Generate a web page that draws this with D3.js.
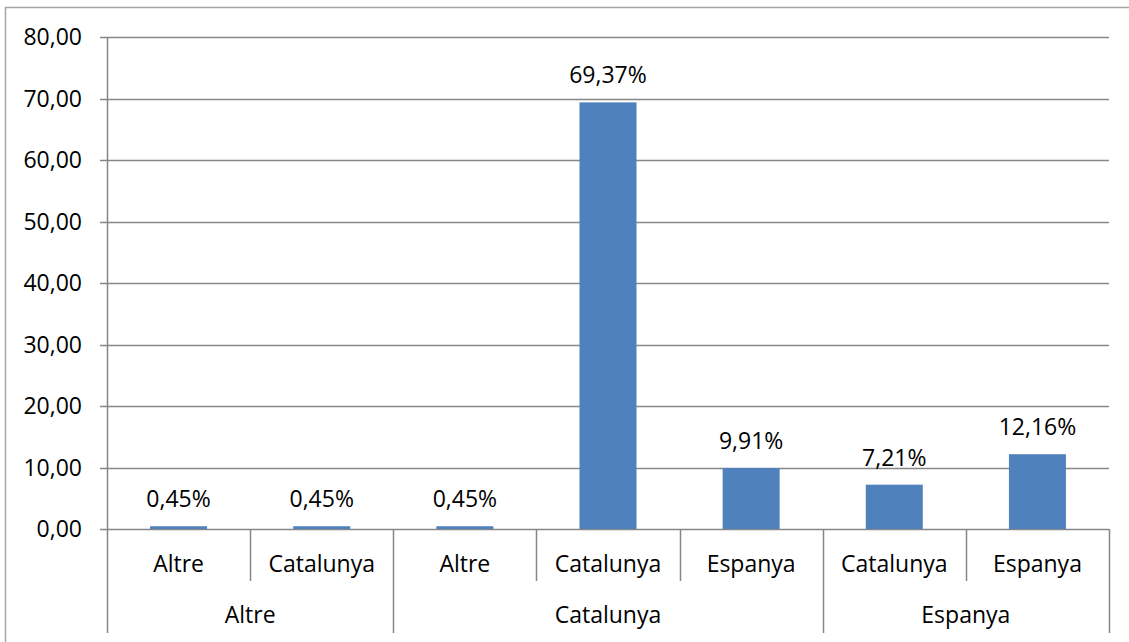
<!DOCTYPE html>
<html><head><meta charset="utf-8">
<script src="https://cdn.jsdelivr.net/npm/d3@7"></script>
<style>body{margin:0;background:#fff}svg{display:block}text{font-family:"Open Sans",sans-serif;fill:#000}</style>
</head><body><svg id="c" width="1129" height="642"></svg>
<script>
const groups = ["Altre","Altre","Catalunya","Catalunya","Catalunya","Espanya","Espanya"];
const subcats = ["Altre","Catalunya","Altre","Catalunya","Espanya","Catalunya","Espanya"];
const values = [0.45,0.45,0.45,69.37,9.91,7.21,12.16];
const labels = ["0,45%","0,45%","0,45%","69,37%","9,91%","7,21%","12,16%"];
const yTicks = [0,10,20,30,40,50,60,70,80];

const svg = d3.select("#c");
const L=107, R=1109, T=37, B=529, FS=23;
const idx = values.map((d,i)=>i);
const x = d3.scaleBand().domain(idx).range([L,R]).paddingInner(0).paddingOuter(0);
const y = d3.scaleLinear().domain([0,80]).range([B,T]);
const grid="#868686";

// chart border
svg.append("rect").attr("x",5.5).attr("y",7.5).attr("width",1140).attr("height",660).attr("fill","none").attr("stroke","#a6a6a6").attr("stroke-width",1.5);

// gridlines
svg.append("g").selectAll("line").data(yTicks).join("line")
  .attr("x1",L-7).attr("x2",R).attr("y1",d=>Math.round(y(d))+0.5).attr("y2",d=>Math.round(y(d))+0.5)
  .attr("stroke",grid).attr("stroke-width",1.5);
// y labels
const fmt = d=>d3.format(".2f")(d).replace(".",",");
svg.append("g").selectAll("text").data(yTicks).join("text")
  .attr("x",82).attr("y",d=>y(d)).attr("dy","0.36em").attr("text-anchor","end")
  .attr("font-size",FS).text(fmt);
// y axis line
svg.append("line").attr("x1",L+0.5).attr("x2",L+0.5).attr("y1",T).attr("y2",633).attr("stroke",grid).attr("stroke-width",1.5);

// bars
svg.append("g").selectAll("rect").data(idx).join("rect")
  .attr("x",i=>x(i)+x.bandwidth()/2-28.5).attr("width",57)
  .attr("y",i=>y(values[i])).attr("height",i=>y(0)-y(values[i]))
  .attr("fill","#4f81bd");
// data labels
svg.append("g").selectAll("text").data(idx).join("text")
  .attr("x",i=>x(i)+x.bandwidth()/2).attr("y",i=>y(values[i])-19)
  .attr("text-anchor","middle").attr("font-size",FS).text(i=>labels[i]);

// category ticks
svg.append("g").selectAll("line").data(idx.slice(1).concat([idx.length])).join("line")
  .attr("x1",i=>Math.round(i<idx.length?x(i):R)+0.5).attr("x2",i=>Math.round(i<idx.length?x(i):R)+0.5)
  .attr("y1",B).attr("y2",i=>(i===idx.length||groups[i]!==groups[i-1])?633:581)
  .attr("stroke",grid).attr("stroke-width",1.5);
// sub labels
svg.append("g").selectAll("text").data(idx).join("text")
  .attr("x",i=>x(i)+x.bandwidth()/2).attr("y",564).attr("dy","0.36em")
  .attr("text-anchor","middle").attr("font-size",FS).text(i=>subcats[i]);
// group labels
const gnames = Array.from(new Set(groups));
svg.append("g").selectAll("text").data(gnames).join("text")
  .attr("x",g=>{const ii=idx.filter(i=>groups[i]===g);return (x(ii[0])+x(ii[ii.length-1])+x.bandwidth())/2;})
  .attr("y",615).attr("dy","0.36em").attr("text-anchor","middle").attr("font-size",FS).text(g=>g);
</script></body></html>
